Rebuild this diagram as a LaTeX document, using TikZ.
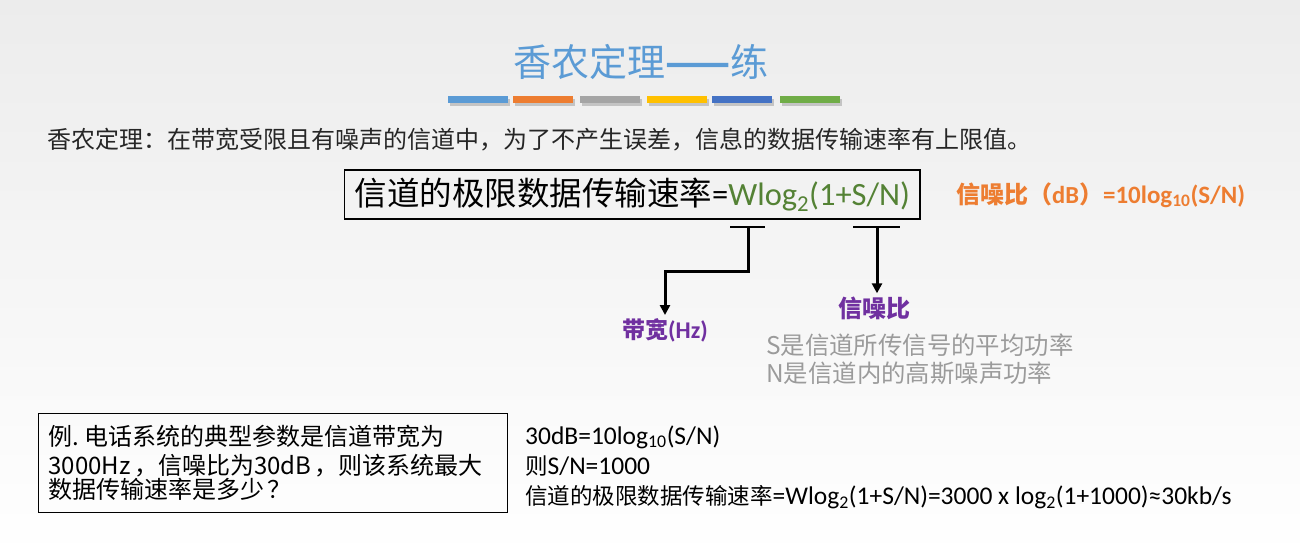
\documentclass[tikz,border=0pt]{standalone}
\usepackage{fontspec}
\setmainfont{Carlito}
\newfontfamily\cjk{Noto Sans CJK SC}
\usetikzlibrary{arrows.meta}
\definecolor{tblue}{RGB}{91,155,213}
\definecolor{torange}{RGB}{237,125,49}
\definecolor{tgray}{RGB}{165,165,165}
\definecolor{tyellow}{RGB}{255,192,0}
\definecolor{tdblue}{RGB}{68,114,196}
\definecolor{tgreen}{RGB}{112,173,71}
\definecolor{fgreen}{RGB}{84,130,53}
\definecolor{purp}{RGB}{112,48,160}
\definecolor{ltext}{RGB}{155,155,155}
\definecolor{bgtop}{RGB}{236,236,236}
\newcommand{\zh}[2]{{\fontsize{#1}{#1}\cjk #2}}
\newcommand{\la}[2]{{\fontsize{#1}{#1}\selectfont #2}}
\begin{document}
\begin{tikzpicture}[x=1pt,y=-1pt,
  txt/.style={inner sep=0pt, anchor=west},
  bar/.style={line width=1.6pt},
  conn/.style={line width=3pt, -{Triangle[width=10pt,length=10pt]}, shorten >=3pt}]
\useasboundingbox (0,0) rectangle (1300,557);
\shade[top color=bgtop, bottom color=white] (0,0) rectangle (1300,557);

% title
\node[inner sep=0pt, text=tblue] (title) at (641,62) {\zh{38}{香农定理}{\fontsize{38}{38}\cjk\bfseries ——}\zh{38}{练}};
\foreach \x/\c in {448/tblue,513/torange,580/tgray,647/tyellow,712/tdblue,780/tgreen}{
  \fill[black, opacity=.18] (\x+2,99) rectangle (\x+62,106);
  \fill[\c] (\x,96) rectangle (\x+60,103);
}

% definition
\node[txt, text=black!85] (def) at (47,140) {\zh{24}{香农定理：在带宽受限且有噪声的信道中，为了不产生误差，信息的数据传输速率有上限值。}};

% formula box
\node[txt, draw, line width=1.4pt, inner xsep=10pt, minimum height=49pt] (fbox) at (344,194.5)
  {\zh{32.5}{信道的极限数据传输速率}\la{32.5}{=\textcolor{fgreen}{Wlog\textsubscript{2}(1+S/N)}}};

% snr in dB
\node[txt, text=torange, font=\bfseries] (snrdb) at (956,195)
  {\zh{24}{信噪比（}\la{24.5}{dB}\zh{24}{）}\la{25}{=10log\textsubscript{10}(S/N)}};

% labels
\node[inner sep=0pt, text=purp, font=\bfseries] (bw) at (665,330) {\zh{23}{带宽}\la{24}{(Hz)}};
\node[inner sep=0pt, text=purp, font=\bfseries] (snr) at (874,308) {\zh{24}{信噪比}};
\node[txt, text=ltext] (sdef) at (766,345) {\zh{24.4}{S是信道所传信号的平均功率}};
\node[txt, text=ltext] (ndef) at (766,373) {\zh{24.4}{N是信道内的高斯噪声功率}};

% connectors
\coordinate (t1a) at (730,227); \coordinate (t1b) at (765,227); \coordinate (t1) at (748,227);
\coordinate (t2a) at (853,227); \coordinate (t2b) at (900,227); \coordinate (t2) at (877,227);
\draw[bar] (t1a) -- (t1b);
\draw[bar] (t2a) -- (t2b);
\draw[conn] (t1) -- (748,271) -| (bw.north);
\draw[conn] (t2) -- (t2 |- snr.north);

% example box
\node[draw, line width=1.2pt, anchor=north west, minimum width=469pt, minimum height=99pt,
  inner xsep=10pt, align=left, text width=449pt] (ex) at (38,413)
  {\fontsize{24}{29}\cjk 例. 电话系统的典型参数是信道带宽为\\3000Hz ，信噪比为30dB ，则该系统最大\\数据传输速率是多少 ？};

% solution
\node[txt] (s1) at (525,437) {\la{25.5}{30dB=10log\textsubscript{10}(S/N)}};
\node[txt] (s2) at (525,466) {\zh{22.5}{则}\la{25.5}{S/N=1000}};
\node[txt] (s3) at (525,497) {\zh{22.5}{信道的极限数据传输速率}\la{25.5}{=Wlog\textsubscript{2}(1+S/N)=3000 x log\textsubscript{2}(1+1000)≈30kb/s}};
\end{tikzpicture}
\end{document}
